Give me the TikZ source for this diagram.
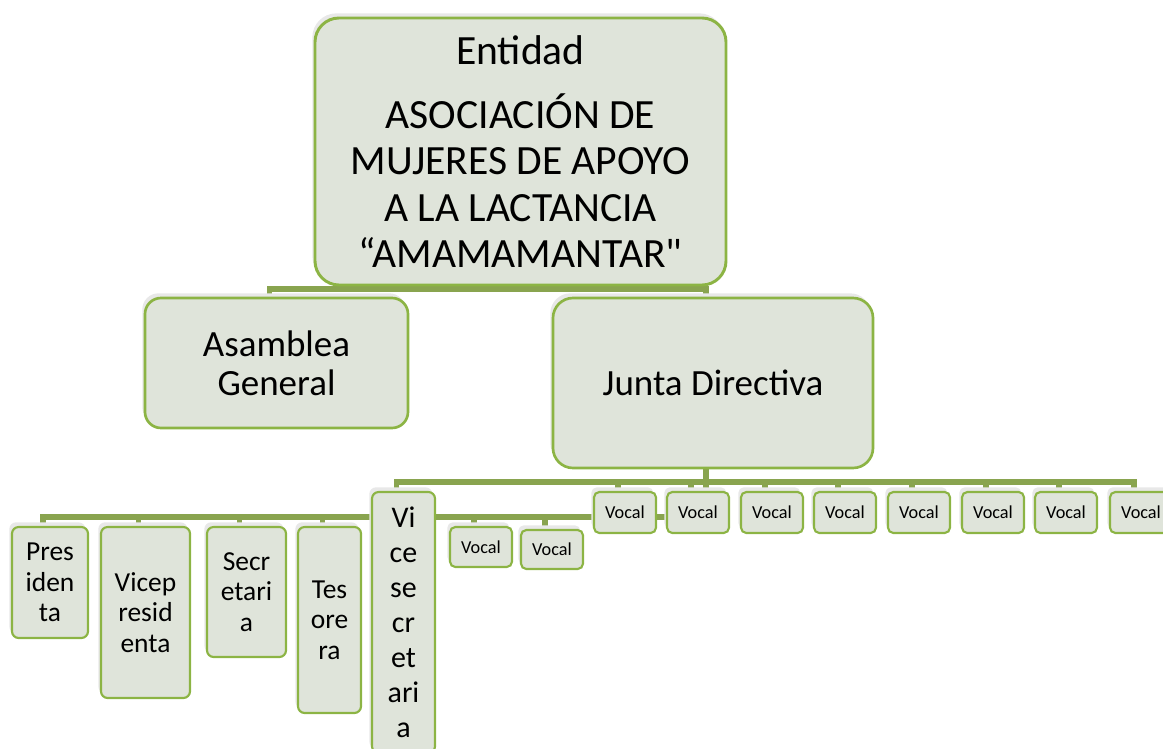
\documentclass[tikz,border=0pt]{standalone}
\usepackage{fontspec}
\setmainfont{Carlito}[Ligatures=TeXOff]
\usetikzlibrary{shadows}
\definecolor{boxfill}{RGB}{223,228,218}
\definecolor{boxline}{RGB}{140,180,68}
\definecolor{connc}{RGB}{137,164,79}
\pgfdeclarelayer{bg}
\pgfsetlayers{bg,main}
\begin{document}
\begin{tikzpicture}[x=0.75pt,y=-0.75pt,
  orgbox/.style={draw=boxline, line width=2pt, fill=boxfill, inner sep=0pt, align=center,
    general shadow={fill=black!9, shadow xshift=-2pt, shadow yshift=3.5pt}},
  connline/.style={draw=connc, line width=4.2pt},
  bigtxt/.style={font=\fontsize{31.2pt}{34.7pt}\selectfont},
  midtxt/.style={font=\fontsize{27.75pt}{29.25pt}\selectfont},
  smalltxt/.style={font=\fontsize{20.6pt}{23pt}\selectfont},
  vstxt/.style={font=\fontsize{22.5pt}{26.2pt}\selectfont},
  vocaltxt/.style={font=\fontsize{13.7pt}{16pt}\selectfont},
  vocal/.style={orgbox, vocaltxt, line width=1.6pt, rounded corners=4pt, minimum width=46.5pt, minimum height=30.75pt},
  member/.style={orgbox, smalltxt, line width=1.6pt, rounded corners=5pt}]
\useasboundingbox (0,0) rectangle (1163,749);
\clip (0,0) rectangle (1163,749);

% top level
\node[orgbox, bigtxt, line width=2.2pt, minimum width=308.25pt, minimum height=200.25pt, rounded corners=18pt]
  (top) at (520.5,151.5) {Entidad\\[13.3pt]ASOCIACIÓN DE\\MUJERES DE APOYO\\A LA LACTANCIA\\“AMAMAMANTAR"};

% second level
\node[orgbox, midtxt, minimum width=197.25pt, minimum height=97.5pt, rounded corners=12pt]
  (asam) at (276.5,363) {Asamblea\\General};
\node[orgbox, midtxt, minimum width=240pt, minimum height=127.5pt, rounded corners=15pt]
  (junta) at (713,383) {Junta Directiva};

% members
\node[member, minimum width=57pt, minimum height=83.25pt] (pres) at (50,582.5) {Pres\\iden\\ta};
\node[member, minimum width=66.75pt, minimum height=128.25pt] (vp) at (145.5,612.5) {Vicep\\resid\\enta};
\node[member, minimum width=59.25pt, minimum height=97.5pt] (sec) at (246.5,592) {Secr\\etari\\a};
\node[member, minimum width=47.25pt, minimum height=139.5pt] (tes) at (329.5,620) {Tes\\ore\\ra};
\node[member, vstxt, minimum width=47.25pt, minimum height=195.75pt] (vs) at (403.5,622.5) {Vi\\ce\\se\\cr\\et\\ari\\a};
\node[vocal, minimum height=30pt] (va) at (481,547) {Vocal};
\node[vocal, minimum height=29.25pt] (vb) at (552,549.5) {Vocal};

\node[vocal] (v1) at (625,512.5) {Vocal};
\node[vocal] (v2) at (698,512.5) {Vocal};
\node[vocal] (v3) at (772,512.5) {Vocal};
\node[vocal] (v4) at (845,512.5) {Vocal};
\node[vocal] (v5) at (919,512.5) {Vocal};
\node[vocal] (v6) at (993,512.5) {Vocal};
\node[vocal] (v7) at (1066,512.5) {Vocal};
\node[vocal] (v8) at (1141,512.5) {Vocal};

% connectors
\begin{pgfonlayer}{bg}
\coordinate (tb) at (0,289);
\coordinate (ub) at (0,482);
\coordinate (lb) at (0,517);
\draw[connline] (top.south) -- (top.south |- tb);
\draw[connline] ([xshift=-5.25pt]asam.north) -- ([xshift=-5.25pt]asam.north |- tb)
  -- ([xshift=-5.25pt]junta.north |- tb) -- ([xshift=-5.25pt]junta.north);
\draw[connline] ([xshift=-5.25pt]junta.south) -- ([xshift=-5.25pt]junta.south |- lb);
\draw[connline] ([xshift=-5.25pt]pres.north) -- ([xshift=-5.25pt]pres.north |- lb)
  -- ([xshift=-5.25pt]junta.south |- lb);
\foreach \n in {vp,sec,tes,va,vb}
  \draw[connline] ([xshift=-5.25pt]\n.north) -- ([xshift=-5.25pt]\n.north |- lb);
\draw[connline] ([xshift=-5.25pt]vs.north) -- ([xshift=-5.25pt]vs.north |- ub)
  -- ([xshift=-5.25pt]v8.north |- ub) -- ([xshift=-5.25pt]v8.north);
\foreach \n in {v1,v2,v3,v4,v5,v6,v7}
  \draw[connline] ([xshift=-5.25pt]\n.north) -- ([xshift=-5.25pt]\n.north |- ub);
\end{pgfonlayer}
\end{tikzpicture}
\end{document}
